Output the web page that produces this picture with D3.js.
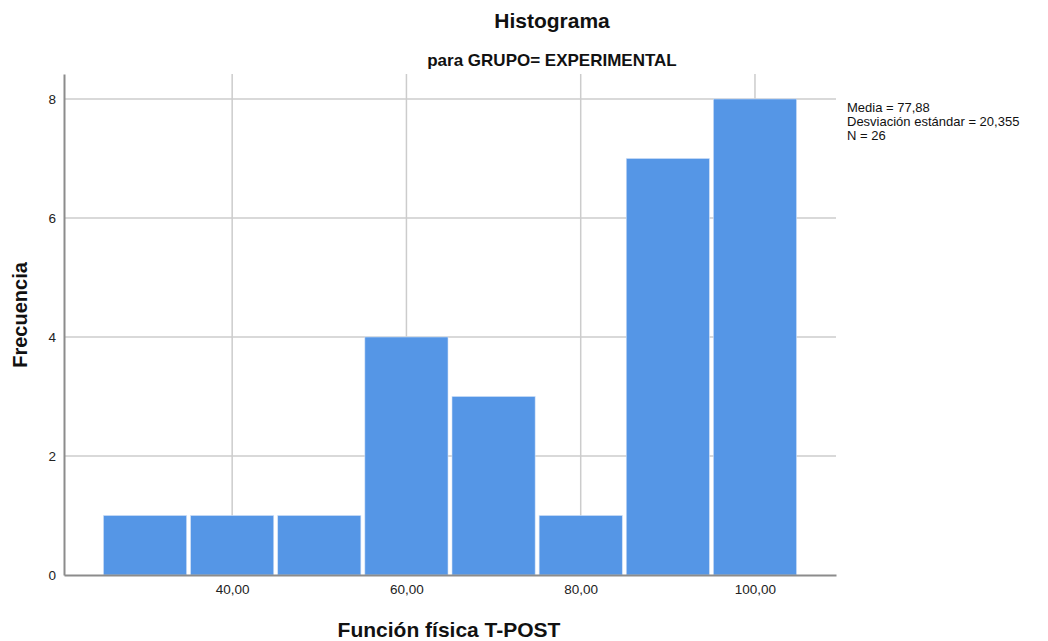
<!DOCTYPE html>
<html>
<head>
<meta charset="utf-8">
<script src="https://cdn.jsdelivr.net/npm/d3@7"></script>
<style>
  html, body { margin: 0; padding: 0; background: #fff; }
  svg { display: block; font-family: "Liberation Sans", Arial, sans-serif; }
</style>
</head>
<body>
<svg id="chart" width="1048" height="641"></svg>
<script>
// Histogram bins (lower edges) and frequencies
const binStarts = [25, 35, 45, 55, 65, 75, 85, 95];
const binWidth = 10;
const counts = [1, 1, 1, 4, 3, 1, 7, 8];
const xTicks = [40, 60, 80, 100];
const yTicks = [0, 2, 4, 6, 8];
const statsLines = ["Media = 77,88", "Desviación estándar = 20,355", "N = 26"];

(function draw() {
  const svg = d3.select("#chart");
  const plotLeft = 64, plotRight = 836, plotTop = 74, plotBottom = 575;

  const x = d3.scaleLinear().domain([20.7, 109.3]).range([plotLeft, plotRight]);
  const y = d3.scaleLinear().domain([0, 8.42]).range([plotBottom, plotTop]);

  const fmt = v => d3.format(".2f")(v).replace(".", ",");

  // Gridlines
  const grid = svg.append("g");
  grid.selectAll("line.h").data(yTicks.filter(d => d > 0)).join("line")
    .attr("class", "h")
    .attr("x1", plotLeft).attr("x2", plotRight)
    .attr("y1", d => y(d)).attr("y2", d => y(d))
    .attr("stroke", "#cccccc").attr("stroke-width", 1.5);
  grid.selectAll("line.v").data(xTicks).join("line")
    .attr("class", "v")
    .attr("x1", d => x(d)).attr("x2", d => x(d))
    .attr("y1", plotTop).attr("y2", plotBottom)
    .attr("stroke", "#cccccc").attr("stroke-width", 1.5);

  // Bars
  svg.append("g").selectAll("rect").data(binStarts).join("rect")
    .attr("x", d => x(d) + 2)
    .attr("width", d => x(d + binWidth) - x(d) - 4)
    .attr("y", (d, i) => y(counts[i]))
    .attr("height", (d, i) => y(0) - y(counts[i]))
    .attr("fill", "#5596e6")
    .attr("stroke", "#cfe0f7").attr("stroke-width", 0.6);

  // Axes
  const xAxis = svg.append("g").attr("transform", `translate(0,${plotBottom})`)
    .call(d3.axisBottom(x).tickValues(xTicks).tickFormat(fmt).tickSize(0).tickPadding(9));
  const yAxis = svg.append("g").attr("transform", `translate(${plotLeft},0)`)
    .call(d3.axisLeft(y).tickValues(yTicks).tickFormat(d3.format("d")).tickSize(0).tickPadding(8));
  [xAxis, yAxis].forEach(g => {
    g.select(".domain").attr("stroke", "#8c8c8c").attr("stroke-width", 2);
    g.selectAll("text").attr("font-size", 13.5).attr("fill", "#222")
      .attr("font-family", "Liberation Sans, Arial, sans-serif");
  });

  // Titles
  svg.append("text").attr("x", 552).attr("y", 28).attr("text-anchor", "middle")
    .attr("font-size", 21).attr("font-weight", "bold").attr("fill", "#111")
    .text("Histograma");
  svg.append("text").attr("x", 552).attr("y", 66).attr("text-anchor", "middle")
    .attr("font-size", 17).attr("font-weight", "bold").attr("fill", "#111")
    .text("para GRUPO= EXPERIMENTAL");
  svg.append("text").attr("x", 449).attr("y", 637).attr("text-anchor", "middle")
    .attr("font-size", 21).attr("font-weight", "bold").attr("fill", "#111")
    .text("Función física T-POST");
  svg.append("text").attr("transform", "translate(27,315) rotate(-90)")
    .attr("text-anchor", "middle")
    .attr("font-size", 20).attr("font-weight", "bold").attr("fill", "#111")
    .text("Frecuencia");

  // Summary statistics
  svg.append("g").selectAll("text").data(statsLines).join("text")
    .attr("x", 847).attr("y", (d, i) => 112 + i * 14)
    .attr("font-size", 13).attr("fill", "#111")
    .text(d => d);
})();
</script>
</body>
</html>
